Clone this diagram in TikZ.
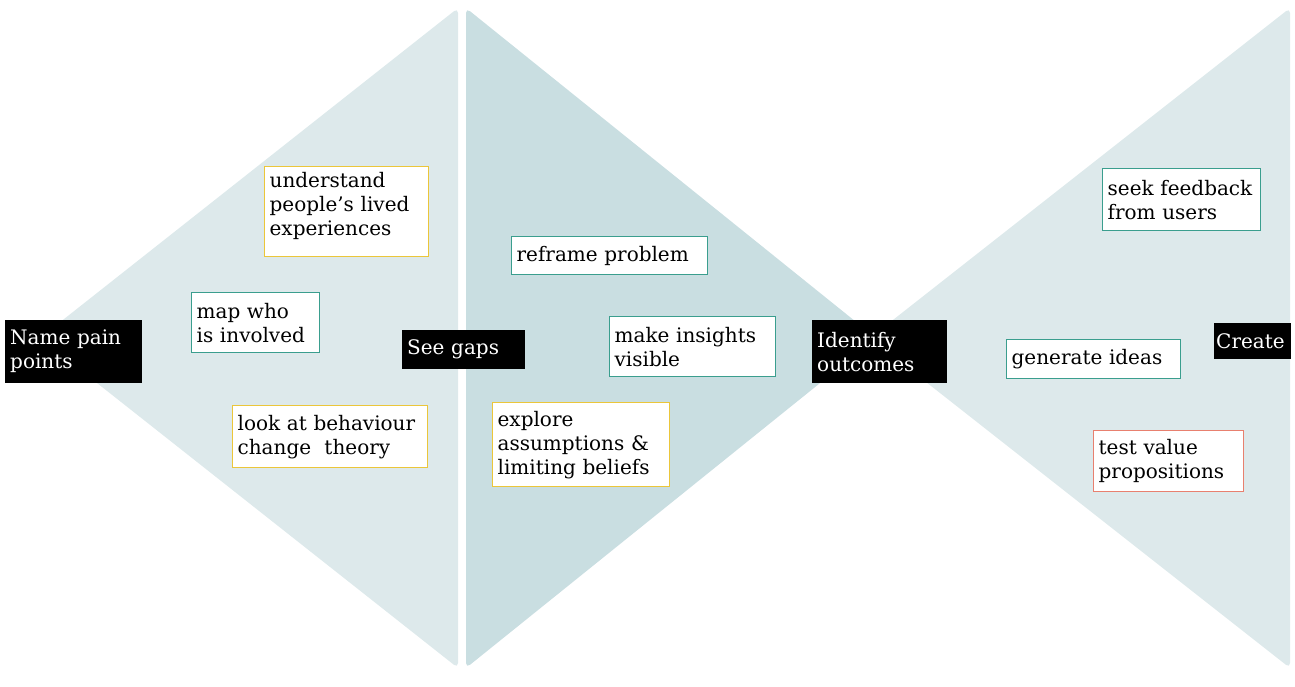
\documentclass[tikz,border=0pt]{standalone}
\usepackage{fontspec}
\setmainfont{DejaVu Serif}
\definecolor{palegrey}{HTML}{DDE9EB}
\definecolor{midgrey}{HTML}{C9DEE1}
\definecolor{tealline}{HTML}{3A9E8E}
\definecolor{yellowline}{HTML}{EBC63A}
\definecolor{redline}{HTML}{E8806F}
\hyphenpenalty=10000
\exhyphenpenalty=10000

\begin{document}
\begin{tikzpicture}
[x=1pt,y=-1pt,
 every node/.style={anchor=north west,align=left,inner xsep=5pt,inner ysep=4pt,
   font=\fontsize{20}{24}\selectfont},
 stage/.style={fill=black,text=white},
 task/.style={draw=#1,fill=white,line width=1.3pt}]
\useasboundingbox (0,0) rectangle (1295,686);
% the three funnels
\fill[palegrey,rounded corners=5pt] (40,338) -- (458,8) -- (458,668) -- cycle;
\fill[midgrey,rounded corners=5pt] (466,8) -- (876,338) -- (466,668) -- cycle;
\fill[palegrey,rounded corners=5pt] (870,338) -- (1290,8) -- (1290,668) -- cycle;

% stages
\node[stage,text width=127pt,minimum height=63pt] (pain) at (5,320) {Name pain\\points};
\node[stage,text width=113pt,minimum height=39pt] (gaps) at (402,330) {See gaps};
\node[stage,text width=125pt,minimum height=63pt] (outcomes) at (812,320) {Identify\\outcomes};
\node[stage,text width=73pt,inner xsep=2pt,minimum height=36pt] (create) at (1214,323) {Create};

% tasks
\node[task=yellowline,text width=154pt,minimum height=90pt,text depth=64pt] (lived) at (264,166)
  {understand\\people’s lived\\experiences};
\node[task=tealline,text width=118pt,minimum height=60pt] (who) at (191,292) {map who\\is involved};
\node[task=yellowline,text width=185pt,minimum height=62pt] (theory) at (232,405) {look at behaviour\\change~ theory};
\node[task=tealline,text width=186pt,minimum height=38pt] (reframe) at (511,236) {reframe problem};
\node[task=tealline,text width=156pt,minimum height=60pt] (insights) at (609,316) {make insights\\visible};
\node[task=yellowline,text width=167pt,minimum height=84pt] (beliefs) at (492,402) {explore\\assumptions \&\\limiting beliefs};
\node[task=tealline,text width=148pt,minimum height=62pt] (feedback) at (1102,168) {seek feedback\\from users};
\node[task=tealline,text width=164pt,minimum height=39pt] (ideas) at (1006,339) {generate ideas};
\node[task=redline,text width=140pt,minimum height=61pt] (value) at (1093,430) {test value\\propositions};

\end{tikzpicture}
\end{document}
